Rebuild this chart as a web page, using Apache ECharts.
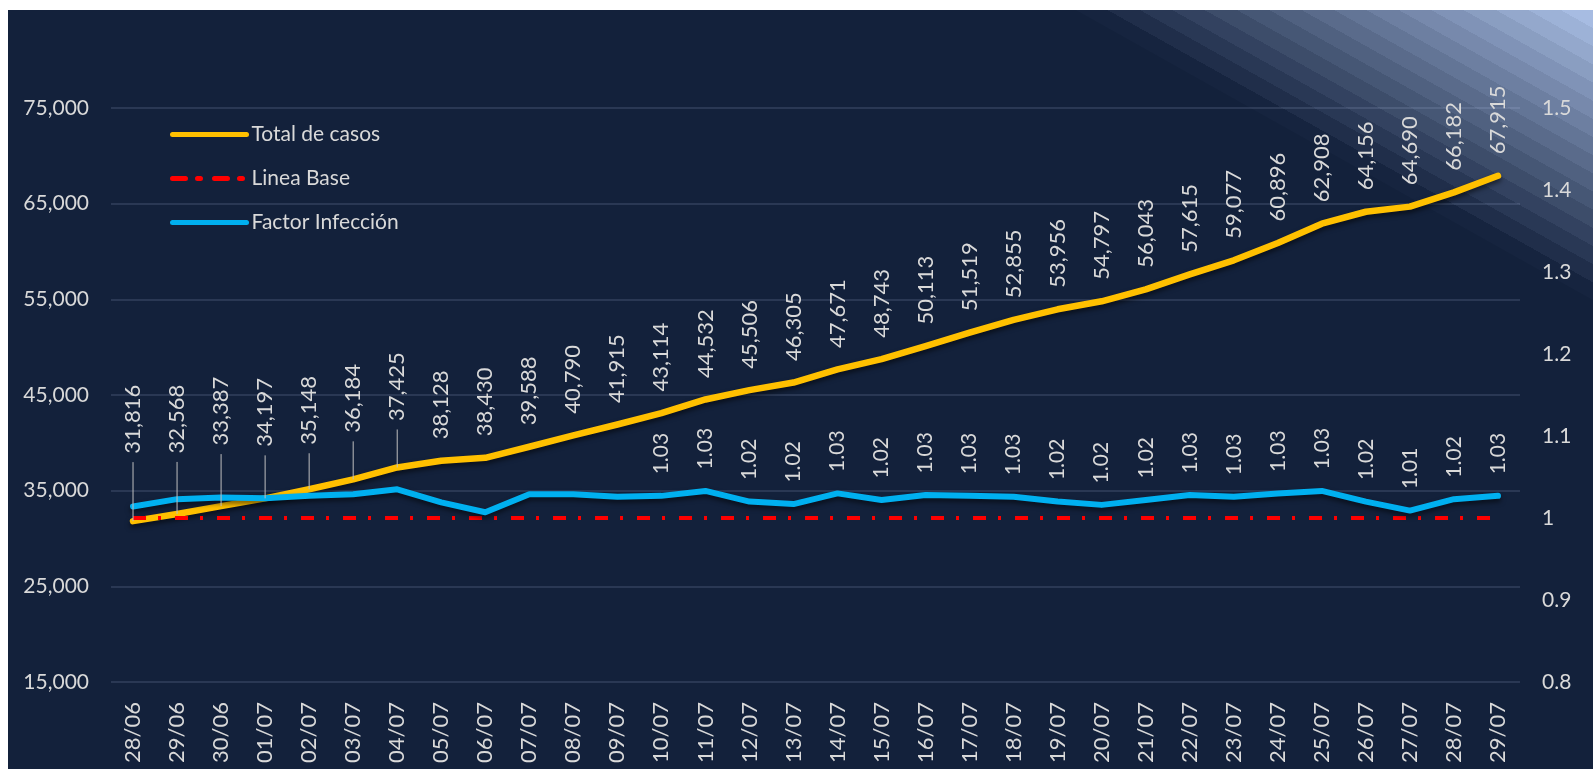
<!DOCTYPE html>
<html>
<head>
<meta charset="utf-8">
<script src="https://cdn.jsdelivr.net/npm/echarts@6/dist/echarts.min.js"></script>
<style>
  html, body { margin: 0; padding: 0; background: #ffffff; }
  #chart { position: absolute; left: 8px; top: 10px; width: 1585px; height: 759px; }
</style>
</head>
<body>
<div id="chart"></div>
<script>
// ---------- data ----------
const dates = ['28/06','29/06','30/06','01/07','02/07','03/07','04/07','05/07','06/07','07/07','08/07','09/07','10/07','11/07','12/07','13/07','14/07','15/07','16/07','17/07','18/07','19/07','20/07','21/07','22/07','23/07','24/07','25/07','26/07','27/07','28/07','29/07'];
const totalCasos = [31816,32568,33387,34197,35148,36184,37425,38128,38430,39588,40790,41915,43114,44532,45506,46305,47671,48743,50113,51519,52855,53956,54797,56043,57615,59077,60896,62908,64156,64690,66182,67915];
const lineaBase = [1,1,1,1,1,1,1,1,1,1,1,1,1,1,1,1,1,1,1,1,1,1,1,1,1,1,1,1,1,1,1,1];
const factorInfeccion = [1.014,1.023,1.025,1.024,1.027,1.029,1.035,1.019,1.007,1.029,1.029,1.026,1.027,1.033,1.020,1.017,1.030,1.022,1.028,1.027,1.026,1.020,1.016,1.022,1.028,1.026,1.030,1.033,1.020,1.009,1.023,1.027];
const leftTicks = { min: 15000, max: 75000, interval: 10000 };
const rightTicks = { min: 0.8, max: 1.5, interval: 0.1 };
const factorLabelStart = 12; // factor labels shown from 10/07

// ---------- style ----------
const FONT = 'Lato';
const TXT = '#D9D9D9';
const BG = '#13213B';
const LABEL_DIST = 21;
const leaderLift = [46, 39, 39, 30, 23, 25, 25]; // extra lift of first labels (with leader lines)

// banded diagonal gradient (top-right corner)
function bandStops(n, c0, c1) {
  const a = [parseInt(c0.slice(1,3),16), parseInt(c0.slice(3,5),16), parseInt(c0.slice(5,7),16)];
  const b = [parseInt(c1.slice(1,3),16), parseInt(c1.slice(3,5),16), parseInt(c1.slice(5,7),16)];
  const stops = [];
  for (let i = 0; i < n; i++) {
    const t = i / (n - 1);
    const c = 'rgb(' + a.map((v, k) => Math.round(v + (b[k] - v) * t)).join(',') + ')';
    stops.push({ offset: i / n, color: c });
    stops.push({ offset: (i + 1) / n, color: c });
  }
  return stops;
}

const chart = echarts.init(document.getElementById('chart'), null, { renderer: 'canvas' });

const shadow = { shadowColor: 'rgba(0,0,0,0.55)', shadowBlur: 5, shadowOffsetY: 3 };

const totalData = totalCasos.map((v, i) => ({
  value: v,
  label: { distance: LABEL_DIST + (i < leaderLift.length ? leaderLift[i] : 0) }
}));

chart.setOption({
  animation: false,
  backgroundColor: BG,
  textStyle: { fontFamily: FONT },
  graphic: [{
    id: 'corner',
    type: 'polygon',
    z: -10,
    silent: true,
    shape: { points: [[1068, 0], [1585, 0], [1585, 290]] },
    style: {
      fill: {
        type: 'linear', global: true,
        x: 1585, y: 0, x2: 1461, y2: 221,
        colorStops: bandStops(16, '#A7BCE2', '#16243F')
      }
    }
  }],
  legend: {
    orient: 'vertical',
    left: 157,
    top: 109,
    itemWidth: 74,
    itemHeight: 24,
    itemGap: 23,
    itemStyle: { opacity: 0 },
    lineStyle: { width: 5, cap: 'round' },
    textStyle: { color: TXT, fontSize: 21, fontFamily: FONT },
    data: ['Total de casos', 'Linea Base', 'Factor Infección']
  },
  grid: { left: 103, right: 73, top: 98, bottom: 87, containLabel: false },
  xAxis: {
    type: 'category',
    data: dates,
    boundaryGap: true,
    axisLine: { show: false },
    axisTick: { show: false },
    axisLabel: { rotate: 90, margin: 20, color: TXT, fontSize: 22, fontFamily: FONT, interval: 0 }
  },
  yAxis: [{
    type: 'value',
    min: leftTicks.min, max: leftTicks.max, interval: leftTicks.interval,
    axisLine: { show: false }, axisTick: { show: false },
    splitLine: { lineStyle: { color: 'rgba(200,220,255,0.13)', width: 2 } },
    axisLabel: { margin: 22, color: TXT, fontSize: 21, fontFamily: FONT,
      formatter: v => v.toLocaleString('en-US') }
  }, {
    type: 'value',
    min: rightTicks.min, max: rightTicks.max, interval: rightTicks.interval,
    axisLine: { show: false }, axisTick: { show: false },
    splitLine: { show: false },
    axisLabel: { margin: 22, color: TXT, fontSize: 21, fontFamily: FONT,
      formatter: v => String(+v.toFixed(1)) }
  }],
  series: [{
    name: 'Total de casos',
    type: 'line',
    yAxisIndex: 0,
    data: totalData,
    symbol: 'circle',
    symbolSize: 1,
    showSymbol: true,
    z: 3,
    lineStyle: Object.assign({ color: '#FFC000', width: 6.5, cap: 'round', join: 'round' }, shadow),
    itemStyle: { color: '#FFC000' },
    label: {
      show: true, position: 'top', distance: LABEL_DIST, rotate: 90,
      align: 'left', verticalAlign: 'middle',
      color: TXT, fontSize: 22, fontFamily: FONT,
      formatter: p => p.value.toLocaleString('en-US')
    }
  }, {
    name: 'Linea Base',
    type: 'line',
    yAxisIndex: 1,
    data: lineaBase,
    symbol: 'none',
    z: 4,
    lineStyle: { color: '#FF0000', width: 4, type: [13, 12, 3, 14], cap: 'butt' },
    itemStyle: { color: '#FF0000' }
  }, {
    name: 'Factor Infección',
    type: 'line',
    yAxisIndex: 1,
    data: factorInfeccion,
    symbol: 'circle',
    symbolSize: 1,
    showSymbol: true,
    z: 5,
    lineStyle: Object.assign({ color: '#00B0F0', width: 6, cap: 'round', join: 'round' }, shadow),
    itemStyle: { color: '#00B0F0' },
    label: {
      show: true, position: 'top', distance: LABEL_DIST, rotate: 90,
      align: 'left', verticalAlign: 'middle',
      color: TXT, fontSize: 21, fontFamily: FONT,
      formatter: p => (p.dataIndex >= factorLabelStart ? p.value.toFixed(2) : '')
    }
  }]
});

// leader lines for the lifted labels, positioned through the chart's own scales
const leaders = leaderLift.map((lift, i) => {
  const p = chart.convertToPixel({ xAxisIndex: 0, yAxisIndex: 0 }, [i, totalCasos[i]]);
  return {
    id: 'leader' + i,
    type: 'line',
    z: 10,
    silent: true,
    shape: { x1: p[0], y1: p[1], x2: p[0], y2: p[1] - LABEL_DIST - lift + 8 },
    style: { stroke: '#BFBFBF', lineWidth: 1 }
  };
});
chart.setOption({ graphic: leaders });
</script>
</body>
</html>
